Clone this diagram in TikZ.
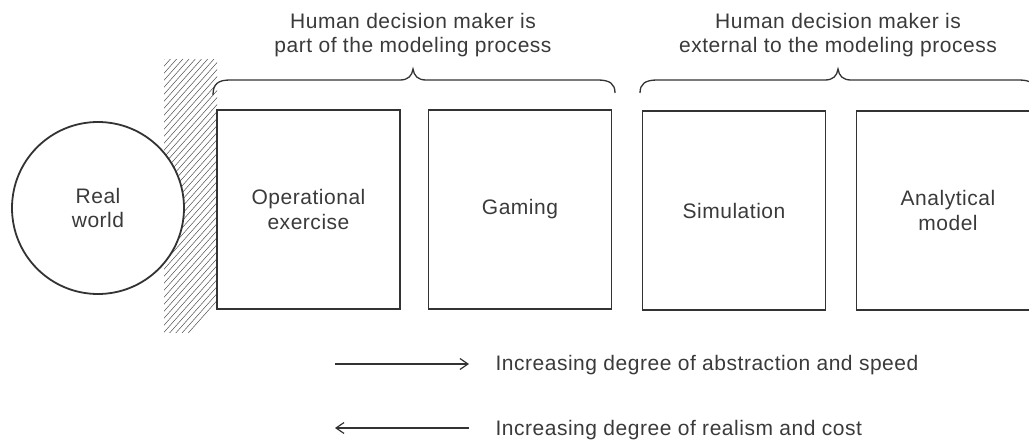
\documentclass[tikz,border=0pt]{standalone}
\usepackage{fontspec}
\setmainfont[LetterSpace=2.5]{Liberation Sans}
\usetikzlibrary{arrows.meta}
\definecolor{ink}{HTML}{333333}
\definecolor{txt}{HTML}{3A3A3A}
\begin{document}
\begin{tikzpicture}[x=1pt,y=-1pt,
  lbl/.style={font=\fontsize{21}{24.5}\selectfont, text=txt, align=center},
  modelbox/.style={draw=ink, line width=1.8pt, minimum width=183pt, minimum height=199pt, inner sep=0pt, lbl},
  worldcirc/.style={circle, draw=ink, fill=white, line width=1.8pt, minimum size=172pt, inner sep=0pt, lbl},
  bracepath/.style={draw=ink, line width=1.3pt},
  arrowline/.style={draw=ink, line width=1.2pt, -{Straight Barb[length=8pt,width=11pt]}}
]
\useasboundingbox (0,0) rectangle (1029,441);
% hatched wall
\begin{scope}
  \clip (164,60) rectangle (217,332);
  \foreach \k in {0,7,...,340} {
    \draw[ink!85, line width=0.5pt] (150,\k+40) -- (230,\k-50);
  }
\end{scope}
% real world
\node[worldcirc] (world) at (98,208) {Real\\world};
% boxes
\node[modelbox] (oper) at (308.5,209.5) {Operational\\exercise};
\node[modelbox] (game) at (520,209.5) {Gaming};
\node[modelbox] (sim) at (734,210.5) {Simulation};
\node[modelbox] (anal) at (948,210.5) {Analytical\\model};
% braces
\coordinate (b1l) at (213,95);
\coordinate (b1p) at (413,69);
\coordinate (b1r) at (615,93);
\draw[bracepath] (b1l) .. controls (213,84) and (218,80) .. (230,80)
  -- (400,80) .. controls (408,80) and (412,76) .. (b1p)
  .. controls (414,76) and (418,80) .. (426,80)
  -- (598,80) .. controls (610,80) and (615,84) .. (b1r);
\coordinate (b2l) at (640,93);
\coordinate (b2p) at (838,69);
\coordinate (b2r) at (1036,93);
\draw[bracepath] (b2l) .. controls (640,84) and (645,80) .. (657,80)
  -- (825,80) .. controls (833,80) and (837,76) .. (b2p)
  .. controls (839,76) and (843,80) .. (851,80)
  -- (1019,80) .. controls (1031,80) and (1036,84) .. (b2r);
% brace labels
\node[lbl] (t1) at (413,35) {Human decision maker is\\part of the modeling process};
\node[lbl] (t2) at (838,35) {Human decision maker is\\external to the modeling process};
% arrows
\coordinate (a1s) at (335,364);
\coordinate (a1e) at (469,364);
\coordinate (a2s) at (469,428);
\coordinate (a2e) at (335,428);
\draw[arrowline] (a1s) -- (a1e);
\draw[arrowline] (a2s) -- (a2e);
\node[lbl, anchor=west] (l1) at (492,365) {Increasing degree of abstraction and speed};
\node[lbl, anchor=west] (l2) at (492,430) {Increasing degree of realism and cost};
\end{tikzpicture}
\end{document}
